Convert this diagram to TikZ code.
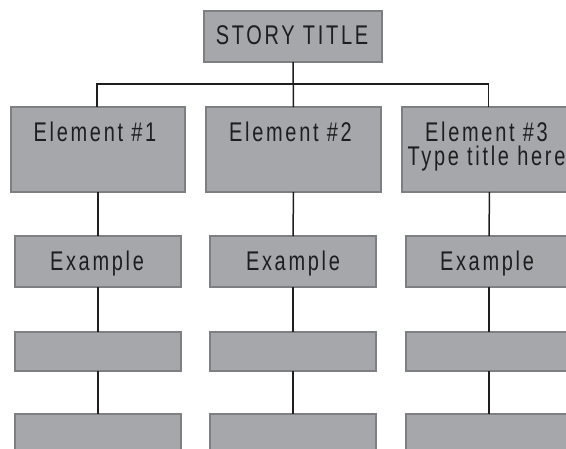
\documentclass[tikz,border=0pt]{standalone}
\usepackage{fontspec}
\usetikzlibrary{calc}
% condensed, letter-spaced sans for the box captions
\newfontfamily\boxfont[FakeStretch=0.74,LetterSpace=10]{Liberation Sans}
\definecolor{boxfill}{HTML}{A6A7AB}
\definecolor{boxedge}{HTML}{7E7F83}
\definecolor{ink}{HTML}{1E1E1E}
\tikzset{
  card/.style={draw=boxedge, fill=boxfill, line width=1.2pt, inner sep=0pt,
               outer sep=0pt, anchor=north west},
  caption/.style={font=\boxfont\fontsize{27}{24}\selectfont, text=ink,
                  inner sep=0pt, align=center},
  link/.style={draw=ink, line width=1.5pt}
}
\begin{document}
\begin{tikzpicture}[x=1pt,y=-1pt]
  \useasboundingbox (0,0) rectangle (566,448);

  % title box
  \node[card, minimum width=178pt, minimum height=51pt] (title) at (204,11) {};
  \node[caption, anchor=base] (ttext) at (292,44) {STORY TITLE};

  % element boxes
  \node[card, minimum width=174pt, minimum height=85pt] (e1) at (11,107) {};
  \node[card, minimum width=175pt, minimum height=85pt] (e2) at (206,107) {};
  \node[card, minimum width=175pt, minimum height=85pt] (e3) at (402,107) {};
  \node[caption, anchor=north] (t1) at ($(e1.north)+(-3,15)$) {Element \#1};
  \node[caption, anchor=north] (t2) at ($(e2.north)+(-3,15)$) {Element \#2};
  \node[caption, anchor=north] (t3) at ($(e3.north)+(-3,15)$) {Element \#3\\Type title here};

  % example boxes
  \node[card, minimum width=166pt, minimum height=51pt] (x1) at (15,236) {};
  \node[card, minimum width=166pt, minimum height=51pt] (x2) at (210,236) {};
  \node[card, minimum width=166pt, minimum height=51pt] (x3) at (406,236) {};
  \node[caption, anchor=base] (xt1) at ($(x1.north)+(-1,34)$) {Example};
  \node[caption, anchor=base] (xt2) at ($(x2.north)+(0,34)$) {Example};
  \node[caption, anchor=base] (xt3) at ($(x3.north)+(-2,34)$) {Example};

  % empty rows
  \node[card, minimum width=166pt, minimum height=39pt] (a1) at (15,332) {};
  \node[card, minimum width=166pt, minimum height=39pt] (a2) at (210,332) {};
  \node[card, minimum width=166pt, minimum height=39pt] (a3) at (406,332) {};
  \node[card, minimum width=166pt, minimum height=50pt] (b1) at (15,414) {};
  \node[card, minimum width=166pt, minimum height=50pt] (b2) at (210,414) {};
  \node[card, minimum width=166pt, minimum height=50pt] (b3) at (406,414) {};

  % connectors
  \draw[link] (title.south) -- (e2.north);
  \draw[link] ([xshift=-1pt]e1.north) -- ++(0,-23) -| ([xshift=-1pt]e3.north);
  \foreach \c in {1,2,3}{
    \draw[link] (e\c.south) -- (x\c.north);
    \draw[link] (x\c.south) -- (a\c.north);
    \draw[link] (a\c.south) -- (b\c.north);
  }
\end{tikzpicture}
\end{document}
